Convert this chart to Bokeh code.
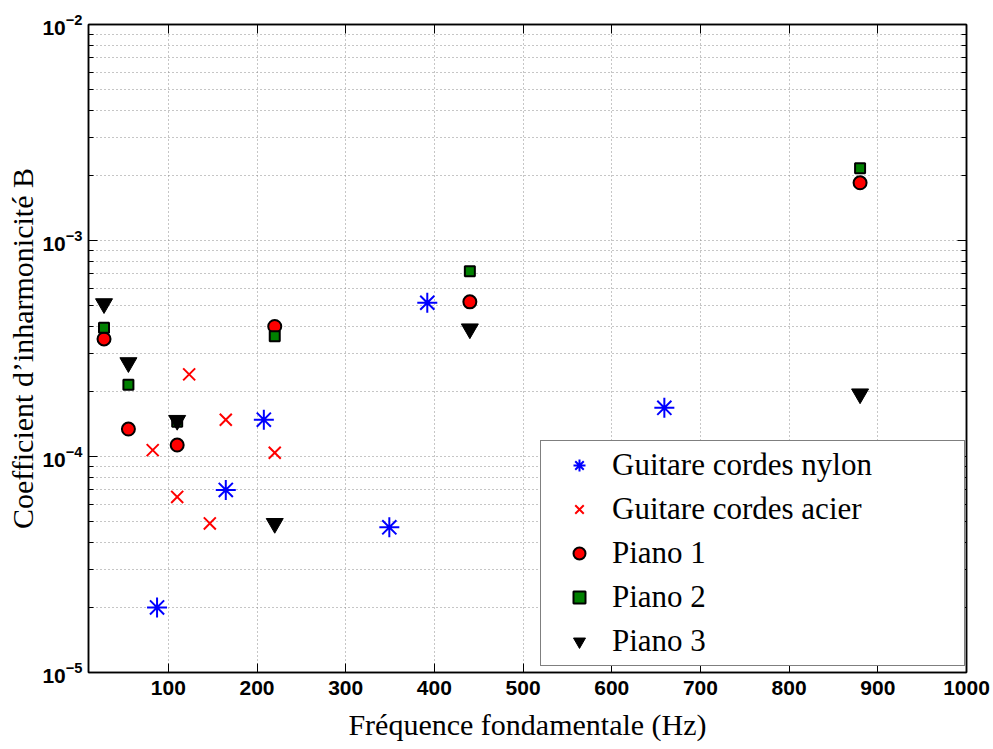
from bokeh.plotting import figure
from bokeh.models import (Range1d, FixedTicker, LinearAxis, LogAxis, Legend,
                          LegendItem, CustomJSTickFormatter)
from bokeh.embed import file_html
from bokeh.resources import INLINE

# ---- data ----
nylon_f = [87.3, 164.8, 207.7, 349.2, 392.0, 659.3]
nylon_B = [2.0e-5, 7.0e-5, 1.48e-4, 4.7e-5, 5.15e-4, 1.68e-4]

acier_f = [82.4, 110.0, 123.5, 146.8, 164.8, 220.0]
acier_B = [1.07e-4, 6.5e-5, 2.4e-4, 4.9e-5, 1.48e-4, 1.04e-4]

piano_f = [27.5, 55.0, 110.0, 220.0, 440.0, 880.0]
piano1_B = [3.5e-4, 1.34e-4, 1.13e-4, 4.0e-4, 5.2e-4, 1.85e-3]
piano2_B = [3.94e-4, 2.15e-4, 1.45e-4, 3.6e-4, 7.2e-4, 2.16e-3]
piano3_B = [5.1e-4, 2.72e-4, 1.47e-4, 4.9e-5, 3.9e-4, 1.95e-4]

labels = ["Guitare cordes nylon", "Guitare cordes acier", "Piano 1", "Piano 2", "Piano 3"]
x_ticks = [100, 200, 300, 400, 500, 600, 700, 800, 900, 1000]
y_major = [1e-5, 1e-4, 1e-3, 1e-2]
y_minor = [m * d for d in [1e-5, 1e-4, 1e-3] for m in range(2, 10)]

x_label = "Fréquence fondamentale (Hz)"
y_label = "Coefficient d’inharmonicité B"

SERIF = "Liberation Serif"
SANS = "Liberation Sans"
GRID = "#8c8c8c"

p = figure(width=993, height=749, output_backend="svg", toolbar_location=None,
           y_axis_type="log", x_range=Range1d(10, 1000), y_range=Range1d(1e-5, 1e-2),
           min_border_left=88, min_border_right=27, min_border_top=24, min_border_bottom=77)
p.outline_line_color = "black"
p.outline_line_width = 1.5

xt = FixedTicker(ticks=x_ticks, minor_ticks=[])
yt = FixedTicker(ticks=y_major, minor_ticks=y_minor)

for ax in p.xaxis:
    ax.ticker = xt
for ax in p.yaxis:
    ax.ticker = yt

def style_axis(ax):
    ax.axis_line_color = "black"
    ax.axis_line_width = 1.5
    ax.major_tick_in = 9
    ax.major_tick_out = 0
    ax.minor_tick_in = 5
    ax.minor_tick_out = 0
    ax.major_tick_line_color = "black"
    ax.minor_tick_line_color = "black"
    ax.major_label_text_font = SANS
    ax.major_label_text_font_style = "bold"
    ax.major_label_text_font_size = "21px"
    ax.major_label_text_color = "black"
    ax.major_label_standoff = 8
    ax.axis_label_text_font = SERIF
    ax.axis_label_text_font_style = "normal"
    ax.axis_label_text_font_size = "30px"
    ax.axis_label_text_color = "black"

style_axis(p.xaxis[0])
style_axis(p.yaxis[0])
p.xaxis[0].axis_label = x_label
p.yaxis[0].axis_label = y_label
p.xaxis[0].axis_label_standoff = 10
p.yaxis[0].axis_label_standoff = 0
p.yaxis[0].major_label_standoff = 6

# top and right box axes (ticks only)
blank = CustomJSTickFormatter(code="return ''")
top = LinearAxis(ticker=xt, formatter=blank)
right = LogAxis(ticker=yt, formatter=blank)
for ax in (top, right):
    style_axis(ax)
    ax.major_label_text_font_size = "0px"
    ax.major_label_standoff = 0
p.add_layout(top, "above")
p.add_layout(right, "right")

# grids
p.xgrid.grid_line_color = GRID
p.xgrid.grid_line_dash = "1 3"
p.xgrid.grid_line_width = 1
p.ygrid.grid_line_color = GRID
p.ygrid.grid_line_dash = "1 3"
p.ygrid.grid_line_width = 1
p.ygrid.minor_grid_line_color = GRID
p.ygrid.minor_grid_line_dash = "1 3"
p.ygrid.minor_grid_line_width = 1

r1 = p.scatter(nylon_f, nylon_B, marker="asterisk", size=20, line_color="#0000ff", line_width=2)
r2 = p.scatter(acier_f, acier_B, marker="x", size=17, line_color="#ff0000", line_width=2)
r3 = p.scatter(piano_f, piano1_B, marker="circle", size=13, fill_color="#ff0000",
               line_color="black", line_width=2)
r4 = p.scatter(piano_f, piano2_B, marker="square", size=10, fill_color="#008000",
               line_color="black", line_width=2)
r5 = p.scatter(piano_f, piano3_B, marker="inverted_triangle", size=17, fill_color="black",
               line_color="black", line_width=1)

legend = Legend(items=[LegendItem(label=l, renderers=[r]) for l, r in
                       zip(labels, [r1, r2, r3, r4, r5])],
                location=(452, 6))
legend.label_text_font = SERIF
legend.label_text_font_size = "31px"
legend.label_text_color = "black"
legend.padding = 6
legend.spacing = 8
legend.label_height = 35
legend.glyph_height = 30
legend.glyph_width = 64
legend.label_standoff = 1
legend.label_width = 346
legend.border_line_color = "black"
legend.border_line_width = 1.5
legend.background_fill_color = "white"
legend.background_fill_alpha = 1.0
legend.margin = 0
p.add_layout(legend, "center")

open("out.html", "w").write(file_html(p, INLINE))
